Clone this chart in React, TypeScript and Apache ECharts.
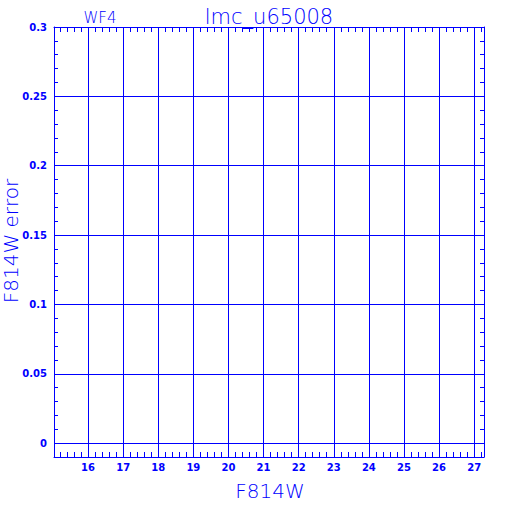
import React, { useEffect, useRef } from "react";
import * as echarts from "echarts";

// Axis ranges
const xRange = [15.03, 27.28];
const yRange = [-0.01, 0.3];
// No data points are plotted in the reference
const points: number[][] = [];
const titleText = "lmc_u65008";
const subTitleText = "WF4";
const xName = "F814W";
const yName = "F814W error";

const BLUE = "#0000ff";

export default function App() {
  const ref = useRef<HTMLDivElement>(null);
  useEffect(() => {
    if (!ref.current) return;
    const chart = echarts.init(ref.current, undefined, { renderer: "svg" });
    const tickFont = { color: BLUE, fontFamily: "DejaVu Sans", fontWeight: "bold" as const, fontSize: 10 };
    const xBase = {
      type: "value" as const,
      min: xRange[0],
      max: xRange[1],
      splitNumber: 12,
      axisLine: { show: true, onZero: false, lineStyle: { color: BLUE, width: 1 } },
      axisTick: { show: true, inside: true, length: 5, lineStyle: { color: BLUE } },
      minorTick: { show: true, splitNumber: 5, length: 5, lineStyle: { color: BLUE } },
    };
    const yBase = {
      type: "value" as const,
      min: yRange[0],
      max: yRange[1],
      splitNumber: 5,
      axisLine: { show: true, onZero: false, lineStyle: { color: BLUE, width: 1 } },
      axisTick: { show: true, inside: true, length: 4, lineStyle: { color: BLUE } },
      minorTick: { show: true, splitNumber: 5, length: 4, lineStyle: { color: BLUE } },
    };
    const nameFont = (size: number) => `200 ${size}px 'DejaVu Sans'`;
    chart.setOption({
      animation: false,
      backgroundColor: "#ffffff",
      grid: { left: 54, top: 27, width: 430, height: 430, containLabel: false },
      xAxis: [
        {
          ...xBase,
          position: "bottom",
          splitLine: { show: true, lineStyle: { color: BLUE, width: 1 } },
          axisLabel: {
            ...tickFont,
            margin: 5,
            formatter: (v: number) => (Math.abs(v - Math.round(v)) < 1e-6 ? String(Math.round(v)) : ""),
          },
        },
        {
          ...xBase,
          position: "top",
          splitLine: { show: false },
          axisLabel: { show: false },
        },
      ],
      yAxis: [
        {
          ...yBase,
          position: "left",
          splitLine: { show: true, lineStyle: { color: BLUE, width: 1 } },
          axisLabel: {
            ...tickFont,
            margin: 7,
            formatter: (v: number) => (v >= -1e-9 ? String(+v.toFixed(2)) : ""),
          },
        },
        {
          ...yBase,
          position: "right",
          splitLine: { show: false },
          axisLabel: { show: false },
        },
      ],
      series: [
        {
          type: "scatter",
          xAxisIndex: 0,
          yAxisIndex: 0,
          data: points,
          symbolSize: 3,
          itemStyle: { color: BLUE },
        },
      ],
      graphic: [
        {
          type: "text",
          x: 269,
          y: 17,
          style: {
            text: titleText,
            fill: BLUE,
            font: nameFont(21),
            align: "center",
            verticalAlign: "middle",
            textAlign: "center",
            textVerticalAlign: "middle",
          },
        },
        {
          type: "text",
          x: 100,
          y: 18,
          style: {
            text: subTitleText,
            fill: BLUE,
            font: nameFont(15),
            align: "center",
            verticalAlign: "middle",
            textAlign: "center",
            textVerticalAlign: "middle",
          },
        },
        {
          type: "text",
          x: 270,
          y: 491,
          style: {
            text: xName,
            fill: BLUE,
            font: nameFont(20),
            align: "center",
            verticalAlign: "middle",
            textAlign: "center",
            textVerticalAlign: "middle",
          },
        },
        {
          type: "text",
          x: 11,
          y: 241,
          rotation: Math.PI / 2,
          style: {
            text: yName,
            fill: BLUE,
            font: nameFont(20),
            align: "center",
            verticalAlign: "middle",
            textAlign: "center",
            textVerticalAlign: "middle",
          },
        },
      ],
    });
    return () => chart.dispose();
  }, []);
  return (
    <div
      ref={ref}
      style={{ position: "fixed", left: 0, top: 0, width: 512, height: 512, background: "#fff" }}
    />
  );
}
